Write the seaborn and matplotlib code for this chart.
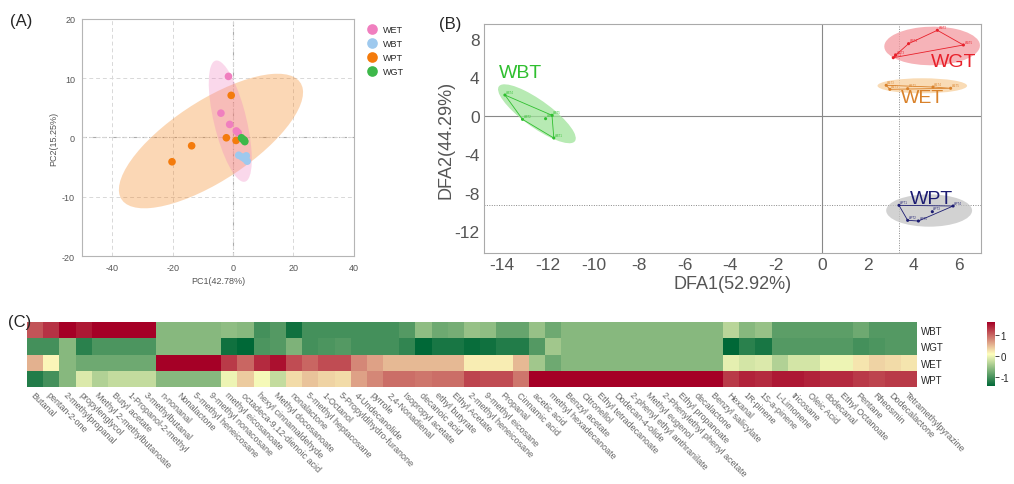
import numpy as np
import pandas as pd
import matplotlib
matplotlib.use("Agg")
import matplotlib.pyplot as plt
from matplotlib.patches import Ellipse
from matplotlib.colors import LinearSegmentedColormap
import seaborn as sns

# ---- (A) PCA scores ----
pca_groups = ["WET", "WBT", "WPT", "WGT"]
pca_colors = ["#f07fbf", "#9ec9ee", "#f47b0c", "#3db84a"]
pca_group = ["WET"] * 5 + ["WBT"] * 5 + ["WPT"] * 5 + ["WGT"] * 5
pc1 = [-1.5, -4.0, -1.1, 1.1, 1.7,
       1.9, 3.0, 4.4, 4.7, 3.9,
       -0.6, -2.2, 1.0, -13.7, -20.2,
       2.8, 3.6, 3.9, 3.2, 3.8]
pc2 = [10.3, 4.1, 2.2, 1.1, 0.8,
       -3.0, -3.3, -3.1, -4.0, -3.6,
       7.1, -0.05, -0.5, -1.4, -4.1,
       -0.05, -0.4, -0.7, -0.3, -0.55]
# confidence ellipses: centre, width, height, angle (data units)
pca_ell_group = ["WPT", "WET"]
pca_ell_x = [-7.3, -0.9]
pca_ell_y = [-0.6, 2.75]
pca_ell_w = [63.3, 22.9]
pca_ell_h = [15.1, 9.9]
pca_ell_ang = [16, -60.2]

# ---- (B) DFA scores ----
dfa_groups = ["WBT", "WGT", "WET", "WPT"]
dfa_colors = ["#2fbf2f", "#e8202a", "#d9822b", "#1c1c72"]
dfa_fill = ["#9fe39a", "#f49aa0", "#f7cf9c", "#c4c4c4"]
dfa_group = ["WBT"] * 5 + ["WGT"] * 5 + ["WET"] * 5 + ["WPT"] * 5
dfa_name = ["WBT4", "WBT2", "WBT3", "WBT5", "WBT1",
            "WGT2", "WGT5", "WGT4", "WGT1", "WGT3",
            "WET3", "WET1", "WET2", "WET4", "WET5",
            "WPT1", "WPT3", "WPT4", "WPT2", "WPT5"]
dfa1 = [-13.87, -13.1, -12.09, -11.81, -11.73,
        5.06, 6.2, 3.8, 3.13, 3.23,
        2.82, 2.98, 3.76, 4.87, 5.64,
        3.38, 4.84, 5.75, 3.76, 4.23]
dfa2 = [2.14, -0.39, -0.32, 0.03, -2.33,
        8.87, 7.34, 7.48, 6.02, 6.27,
        3.15, 2.73, 2.8, 2.97, 2.84,
        -9.33, -9.99, -9.4, -10.89, -10.96]
dfa_ell_x = [-12.47, 4.83, 4.4, 4.7]
dfa_ell_y = [0.19, 7.24, 3.1, -9.87]
dfa_ell_w = [6.8, 4.2, 3.92, 3.76]
dfa_ell_h = [1.7, 4.0, 1.56, 3.36]
dfa_ell_ang = [-63.4, 15, 0, 0]
dfa_lab_x = [-14.13, 4.76, 3.47, 3.85]
dfa_lab_y = [4.5, 5.6, 1.83, -8.57]

# ---- (C) heatmap ----
compounds = ["Butanal", "pentan-2-one", "2-methylpropanal", "propylenglycol",
             "Methyl 2-methylbutanoate", "Butyl acetate", "1-Propanol-2-methyl",
             "3-methylbutanal", "n-nonanal", "Nonalactone", "5-methyl heneicosane",
             "9-methyl nonacosane", "methyl eicosanoate", "octadeca-9,12-dienoic acid",
             "hexyl cinnamaldehyde", "Methyl docosanoate", "nonalactone",
             "5-methyl heptacosane", "1-Octanol", "5-Propyldihydro-furanone",
             "4-Undecanolide", "pyrrole", "2,4-Nonadienal", "Isopropyl acetate",
             "decanoic acid", "ethyl butyrate", "Ethyl Acetate", "2-methyl heneicosane",
             "9-methyl eicosane", "Propanal", "Cinnamic acid", "acetic acid",
             "methyl hexadecanoate", "Benzyl acetate", "Citronellol",
             "Ethyl tetradecanoate", "Dodecan-4-olide", "2-phenyl ethyl anthranilate",
             "Methyl eugenol", "2-Phenylethyl phenyl acetate", "Ethyl propanoate",
             "decalactone", "Benzyl salicylate", "Hexanal", "1R-pinene", "1S-a-pinene",
             "L-Limonene", "tricosane", "Oleic Acid", "dodecanal", "Ethyl Octanoate",
             "Pentane", "Rheosmin", "Dodecalactone", "Tetramethylpyrazine"]
samples = ["WBT", "WGT", "WET", "WPT"]
wbt = [1.1, 1.3, 1.6, 1.45, 1.6, 1.6, 1.6, 1.6,
       -0.6, -0.6, -0.6, -0.6,
       -0.55, -0.6, -1.0, -0.9, -1.3, -1.0,
       -1.0, -1.0, -1.0, -1.0, -1.0, -0.9, -0.55, -0.75, -0.7, -0.5, -0.55,
       -0.8, -0.8, -0.5, -0.75,
       -0.6, -0.6, -0.6, -0.6, -0.6, -0.6, -0.6, -0.6, -0.6, -0.6,
       -0.3, -0.6, -0.5, -0.85, -0.85, -0.85, -0.85, -0.85, -0.75, -0.9, -0.9, -0.9]
wgt = [-1.0, -1.0, -0.6, -1.15, -0.95, -0.95, -0.95, -0.95,
       -0.6, -0.6, -0.6, -0.6,
       -1.3, -1.4, -0.95, -0.9, -0.65, -1.0,
       -0.95, -0.9, -1.0, -1.0, -1.0, -1.1, -1.4, -1.25, -1.25, -1.35, -1.3,
       -1.2, -1.2, -0.9, -0.45,
       -0.6, -0.6, -0.6, -0.6, -0.6, -0.6, -0.6, -0.6, -0.6, -0.6,
       -1.4, -1.15, -1.25, -0.9, -0.9, -0.9, -0.9, -0.9, -1.0, -0.95, -0.9, -0.9]
wet = [0.55, 0.15, -0.6, -0.75, -0.75, -0.75, -0.75, -0.75,
       1.6, 1.6, 1.6, 1.6,
       1.25, 1.0, 1.35, 1.5, 1.15, 1.0,
       1.15, 1.15, 0.8, 0.65, 0.5, 0.5, 0.5, 0.5, 0.5, 0.2, 0.2,
       0.2, 0.5, -0.45, -0.75,
       -0.6, -0.6, -0.6, -0.6, -0.6, -0.6, -0.6, -0.6, -0.6, -0.6,
       -0.05, -0.15, -0.1, -0.35, -0.15, -0.15, 0.0, 0.0, 0.25, 0.35, 0.3, 0.25]
wpt = [-1.2, -1.0, -0.6, -0.1, -0.35, -0.25, -0.25, -0.25,
       -0.6, -0.6, -0.6, -0.6,
       0.0, 0.4, 0.05, -0.25, 0.3, 0.45,
       0.35, 0.3, 0.65, 0.8, 0.95, 0.95, 0.9, 0.95, 0.95, 1.2, 1.15,
       1.15, 0.9, 1.6, 1.6,
       1.6, 1.6, 1.6, 1.6, 1.6, 1.6, 1.6, 1.6, 1.6, 1.6,
       1.25, 1.4, 1.35, 1.45, 1.45, 1.4, 1.35, 1.35, 1.25, 1.2, 1.25, 1.25]


def hull(x, y):
    pts = sorted(zip(x, y))
    def cross(o, a, b):
        return (a[0] - o[0]) * (b[1] - o[1]) - (a[1] - o[1]) * (b[0] - o[0])
    lower, upper = [], []
    for p in pts:
        while len(lower) >= 2 and cross(lower[-2], lower[-1], p) <= 0:
            lower.pop()
        lower.append(p)
    for p in reversed(pts):
        while len(upper) >= 2 and cross(upper[-2], upper[-1], p) <= 0:
            upper.pop()
        upper.append(p)
    h = lower[:-1] + upper[:-1]
    h.append(h[0])
    return [p[0] for p in h], [p[1] for p in h]


sns.set_style("white")
plt.rcParams["font.family"] = ["Liberation Sans", "DejaVu Sans"]
plt.rcParams["axes.unicode_minus"] = False

fig = plt.figure(figsize=(10.14, 4.85), dpi=100)

# ---------- panel A ----------
axA = fig.add_axes([0.0809, 0.470, 0.268, 0.489])
df_pca = pd.DataFrame({"PC1": pc1, "PC2": pc2, "group": pca_group})
for i, g in enumerate(pca_ell_group):
    c = pca_colors[pca_groups.index(g)]
    axA.add_patch(Ellipse((pca_ell_x[i], pca_ell_y[i]), pca_ell_w[i], pca_ell_h[i],
                          angle=pca_ell_ang[i], facecolor=c, alpha=0.3,
                          edgecolor="none", zorder=1))
sns.scatterplot(data=df_pca, x="PC1", y="PC2", hue="group", hue_order=pca_groups,
                palette=pca_colors, s=30, edgecolor="none", ax=axA, zorder=3)
axA.set_xlim(-50, 40)
axA.set_ylim(-20, 20)
axA.set_xticks([-40, -20, 0, 20, 40])
axA.set_yticks([-20, -10, 0, 10, 20])
axA.grid(True, ls=(0, (4, 3)), color="#d8d8d8", lw=0.7)
axA.axhline(0, color="#aaaaaa", ls=(0, (4, 2, 1, 2)), lw=0.8, zorder=0)
axA.axvline(0, color="#aaaaaa", ls=(0, (4, 2, 1, 2)), lw=0.8, zorder=0)
for s in axA.spines.values():
    s.set_color("#b5b5b5")
axA.tick_params(labelsize=6.5, colors="#555555", length=3, color="#b5b5b5", pad=2)
axA.set_xlabel("PC1(42.78%)", fontsize=6.5, color="#555555", labelpad=3)
axA.set_ylabel("PC2(15.25%)", fontsize=6.5, color="#555555", labelpad=3)
axA.legend(loc="upper left", bbox_to_anchor=(1.02, 0.99), frameon=False,
           fontsize=6.5, markerscale=1.4, handletextpad=0.2, labelspacing=0.55,
           borderaxespad=0)

# ---------- panel B ----------
axB = fig.add_axes([0.477, 0.476, 0.490, 0.472])
df_dfa = pd.DataFrame({"DFA1": dfa1, "DFA2": dfa2, "group": dfa_group, "name": dfa_name})
for i, g in enumerate(dfa_groups):
    axB.add_patch(Ellipse((dfa_ell_x[i], dfa_ell_y[i]), dfa_ell_w[i], dfa_ell_h[i],
                          angle=dfa_ell_ang[i], facecolor=dfa_fill[i], alpha=0.75,
                          edgecolor="none", zorder=1))
    sub = df_dfa[df_dfa["group"] == g]
    hx, hy = hull(sub["DFA1"].tolist(), sub["DFA2"].tolist())
    axB.plot(hx, hy, color=dfa_colors[i], lw=0.6, zorder=2)
    for _, r in sub.iterrows():
        axB.text(r["DFA1"] + 0.05, r["DFA2"] + 0.25, r["name"], fontsize=2,
                 color=dfa_colors[i], zorder=4)
    axB.text(dfa_lab_x[i], dfa_lab_y[i], g, fontsize=14, color=dfa_colors[i],
             ha="left", va="center", zorder=5)
sns.scatterplot(data=df_dfa, x="DFA1", y="DFA2", hue="group", hue_order=dfa_groups,
                palette=dfa_colors, s=5, edgecolor="none", legend=False, ax=axB, zorder=3)
ref = dfa_name.index("WPT1")
axB.axvline(0, color="#888888", lw=0.8, zorder=0)
axB.axhline(0, color="#888888", lw=0.8, zorder=0)
axB.axvline(dfa1[ref], color="#888888", lw=0.7, ls=(0, (1, 1.5)), zorder=0)
axB.axhline(dfa2[ref], color="#888888", lw=0.7, ls=(0, (1, 1.5)), zorder=0)
axB.set_xlim(-14.8, 6.95)
axB.set_ylim(-14.3, 9.5)
axB.set_xticks(np.arange(-14, 7, 2))
axB.set_yticks([-12, -8, -4, 0, 4, 8])
for s in axB.spines.values():
    s.set_color("#aaaaaa")
axB.tick_params(labelsize=12.5, colors="#555555", length=0, pad=3)
axB.set_xlabel("DFA1(52.92%)", fontsize=13, color="#555555", labelpad=2)
axB.set_ylabel("DFA2(44.29%)", fontsize=13, color="#555555", labelpad=0)

# ---------- panel C ----------
axC = fig.add_axes([0.0266, 0.200, 0.878, 0.134])
cax = fig.add_axes([0.9735, 0.202, 0.008, 0.132])
heat = pd.DataFrame([wbt, wgt, wet, wpt], index=samples, columns=compounds)
cmap = LinearSegmentedColormap.from_list("gyr", ["#006837", "#fefebd", "#a50026"])
sns.heatmap(heat, cmap=cmap, vmin=-1.4, vmax=1.6, ax=axC, cbar_ax=cax,
            xticklabels=True, yticklabels=True, cbar_kws={"ticks": [-1, 0, 1]})
axC.yaxis.tick_right()
axC.tick_params(axis="y", length=0, labelsize=7, rotation=0, pad=3)
axC.tick_params(axis="x", length=0, pad=2)
plt.setp(axC.get_xticklabels(), rotation=-45, ha="left", va="top",
         rotation_mode="anchor", fontsize=6.5, color="#666666")
axC.set_xlabel("")
axC.set_ylabel("")
cax.tick_params(labelsize=7, length=3, width=0.6, pad=1)

fig.text(0.010, 0.955, "(A)", fontsize=12, va="center")
fig.text(0.433, 0.950, "(B)", fontsize=12, va="center")
fig.text(0.008, 0.335, "(C)", fontsize=12, va="center")

fig.savefig("out.png", dpi=100)
